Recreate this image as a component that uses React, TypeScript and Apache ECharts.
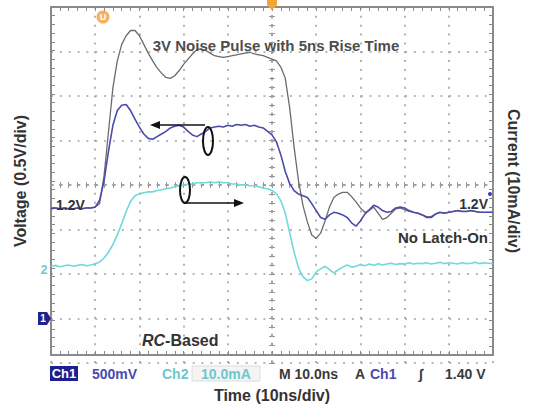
import { useEffect, useRef } from "react";
import * as echarts from "echarts";

// Sample instants along the time base (ns), one per nanosecond across 10 divisions.
const sampleTimesNs = Array.from({ length: 101 }, (_, i) => i);

// Ch1: protected node voltage (V)
const ch1Volts = [
  1.18, 1.19, 1.18, 1.19, 1.18, 1.18, 1.19, 1.18, 1.19, 1.19,
  1.2, 1.28, 1.5, 1.84, 2.14, 2.31, 2.37, 2.38, 2.31, 2.21,
  2.12, 2.04, 1.99, 1.98, 2.01, 2.04, 2.07, 2.11, 2.13, 2.14,
  2.12, 2.07, 2.03, 2.01, 2.04, 2.07, 2.11, 2.12, 2.13, 2.12,
  2.14, 2.13, 2.15, 2.14, 2.15, 2.13, 2.14, 2.12, 2.11, 2.07,
  2.03, 1.95, 1.8, 1.61, 1.47, 1.39, 1.35, 1.33, 1.31, 1.24,
  1.16, 1.08, 1.06, 1.11, 1.14, 1.13, 1.11, 1.08, 1.02, 0.98,
  1.04, 1.12, 1.17, 1.22, 1.2, 1.16, 1.14, 1.15, 1.19, 1.2,
  1.19, 1.16, 1.14, 1.13, 1.11, 1.08, 1.08, 1.12, 1.14, 1.13,
  1.14, 1.15, 1.16, 1.15, 1.15, 1.16, 1.15, 1.14, 1.14, 1.14, 1.14,
];

// Injected 3 V noise pulse (V)
const noisePulseVolts = [
  1.18, 1.19, 1.18, 1.19, 1.18, 1.18, 1.19, 1.18, 1.19, 1.19,
  1.2, 1.24, 1.56, 2.06, 2.57, 2.88, 3.07, 3.17, 3.23, 3.23,
  3.17, 3.07, 2.97, 2.88, 2.8, 2.74, 2.69, 2.68, 2.71, 2.77,
  2.84, 2.9, 2.96, 3.01, 3.02, 3.0, 2.97, 2.94, 2.93, 2.92,
  2.93, 2.94, 2.95, 2.96, 2.97, 2.98, 2.96, 2.95, 2.94, 2.92,
  2.9, 2.88, 2.81, 2.68, 2.34, 1.89, 1.5, 1.22, 1.03, 0.88,
  0.84, 0.9, 1.04, 1.2, 1.31, 1.35, 1.37, 1.37, 1.32, 1.26,
  1.19, 1.14, 1.16, 1.2, 1.13, 1.06, 1.08, 1.13, 1.18, 1.19,
  1.17, 1.15, 1.14, 1.13, 1.11, 1.09, 1.09, 1.12, 1.14, 1.13,
  1.14, 1.15, 1.16, 1.15, 1.15, 1.16, 1.15, 1.14, 1.14, 1.14, 1.14,
];

// Ch2: supply current (mA)
const ch2MilliAmps = [
  0.4, 0.6, 0.3, 0.5, 0.7, 0.4, 0.6, 0.8, 0.5, 0.7,
  1.0, 1.4, 2.3, 3.6, 5.4, 7.6, 10.2, 13.0, 15.3, 16.6,
  17.1, 17.3, 17.5, 17.5, 17.8, 18.0, 18.2, 18.4, 18.7, 18.9,
  19.1, 19.3, 19.3, 19.6, 19.6, 19.6, 19.8, 19.6, 19.8, 19.6,
  19.6, 19.3, 19.3, 19.1, 19.1, 18.9, 18.9, 18.7, 18.4, 18.2,
  17.8, 17.1, 15.5, 12.6, 8.1, 3.6, 0.0, -2.0, -2.9, -2.5,
  -0.9, -0.2, 0.4, -0.4, -1.1, -0.4, 0.2, 0.7, 0.2, 0.4,
  0.8, 0.5, 0.9, 0.6, 1.0, 0.7, 0.9, 1.1, 0.8, 1.0,
  0.9, 1.2, 0.9, 1.1, 1.0, 1.2, 0.9, 1.1, 1.3, 1.0,
  1.2, 1.1, 0.9, 1.2, 1.0, 1.1, 1.3, 1.0, 1.2, 1.1, 1.0,
];

const timeScale = { min: 0, max: 100, step: 10 };
const voltScale = { min: -0.5, max: 3.5, step: 0.5 };
const currentScale = { min: -20, max: 60, step: 10 };

const statusItems = [
  { text: "500mV", x: 92, color: "#4a4ab0" },
  { text: "Ch2", x: 162, color: "#6cc8cc" },
  { text: "10.0mA", x: 201, color: "#6cc8cc" },
  { text: "M 10.0ns", x: 279, color: "#3a3a3a" },
  { text: "A", x: 355, color: "#3a3a3a" },
  { text: "Ch1", x: 370, color: "#4a4ab0" },
  { text: "\u222B", x: 419, color: "#3a3a3a" },
  { text: "1.40 V", x: 445, color: "#3a3a3a" },
];

const FONT = '"Liberation Sans", Arial, sans-serif';
const GRID = { left: 51, top: 7, width: 442, height: 356 };
const BORDER = "#8a8a8a";
const DOT_COLOR = "#a0a0a0";

export default function App() {
  const ref = useRef<HTMLDivElement>(null);

  useEffect(() => {
    if (!ref.current) return;
    const chart = echarts.init(ref.current, null, { renderer: "svg" });

    const pairs = (vals: number[]) => sampleTimesNs.map((t, i) => [t, vals[i]]);
    const dots = () => ({ show: true, lineStyle: { color: DOT_COLOR, width: 1.6, type: [2, 6.85] } });

    const frameAxis = (extra: any) => ({
      axisLabel: { show: false },
      splitLine: { show: false },
      axisLine: { show: true, onZero: false, lineStyle: { color: BORDER, width: 2 } },
      axisTick: { show: true, inside: true, length: 4, lineStyle: { color: BORDER, width: 1 } },
      minorTick: { show: true, splitNumber: 5, length: 4, lineStyle: { color: BORDER, width: 1 } },
      ...extra,
    });
    // graticule: one dotted line per division, with a ticked cross through the centre
    const crossAxis = (inside: boolean, extra: any) => ({
      type: "value",
      axisLabel: { show: false },
      splitLine: inside ? dots() : { show: false },
      axisLine: { show: true, onZero: true, lineStyle: { color: DOT_COLOR, width: 1.6, type: [2, 6.85] } },
      axisTick: { show: true, inside, length: 3, lineStyle: { color: "#999", width: 1 } },
      minorTick: { show: true, splitNumber: 5, length: 3, lineStyle: { color: "#999", width: 1 } },
      ...extra,
    });
    const nameStyle = { color: "#333", fontFamily: FONT, fontWeight: "bold", fontSize: 16 };

    const txt = (text: string, x: number, y: number, o: any = {}) => ({
      type: "text",
      x,
      y,
      z: 10,
      style: {
        text,
        fill: o.fill ?? "#333",
        fontFamily: FONT,
        fontWeight: "bold",
        fontSize: o.size ?? 13,
        align: o.align ?? "left",
        verticalAlign: "middle",
      },
    });

    chart.setOption({
      animation: false,
      backgroundColor: "#fff",
      grid: [{ ...GRID }, { ...GRID }, { ...GRID }],
      xAxis: [
        frameAxis({
          type: "value",
          gridIndex: 0,
          position: "bottom",
          min: timeScale.min,
          max: timeScale.max,
          interval: timeScale.step,
          name: "Time (10ns/div)",
          nameLocation: "middle",
          nameGap: 32,
          nameTextStyle: nameStyle,
        }),
        frameAxis({
          type: "value",
          gridIndex: 0,
          position: "top",
          min: timeScale.min,
          max: timeScale.max,
          interval: timeScale.step,
        }),
        crossAxis(true, { gridIndex: 1, min: -5, max: 5, interval: 1 }),
        crossAxis(false, { gridIndex: 2, min: -5, max: 5, interval: 1 }),
      ],
      yAxis: [
        frameAxis({
          type: "value",
          gridIndex: 0,
          position: "left",
          min: voltScale.min,
          max: voltScale.max,
          interval: voltScale.step,
          name: "Voltage (0.5V/div)",
          nameLocation: "middle",
          nameGap: 23,
          nameTextStyle: nameStyle,
        }),
        frameAxis({
          type: "value",
          gridIndex: 0,
          position: "right",
          min: currentScale.min,
          max: currentScale.max,
          interval: currentScale.step,
          name: "Current (10mA/div)",
          nameLocation: "middle",
          nameRotate: -90,
          nameGap: 12,
          nameTextStyle: nameStyle,
        }),
        crossAxis(true, { gridIndex: 1, min: -4, max: 4, interval: 1 }),
        crossAxis(false, { gridIndex: 2, min: -4, max: 4, interval: 1 }),
      ],
      series: [
        {
          name: "Ch2 current",
          type: "line",
          xAxisIndex: 0,
          yAxisIndex: 1,
          data: pairs(ch2MilliAmps),
          showSymbol: false,
          lineStyle: { color: "#6fd9dc", width: 1.6 },
          z: 3,
        },
        {
          name: "Noise pulse",
          type: "line",
          xAxisIndex: 0,
          yAxisIndex: 0,
          data: pairs(noisePulseVolts),
          showSymbol: false,
          lineStyle: { color: "#6b6b6b", width: 1.3 },
          z: 4,
        },
        {
          name: "Ch1 voltage",
          type: "line",
          xAxisIndex: 0,
          yAxisIndex: 0,
          data: pairs(ch1Volts),
          showSymbol: false,
          lineStyle: { color: "#4b4bab", width: 1.6 },
          z: 5,
        },
      ],
      graphic: [
        // trigger position and trigger level markers
        { type: "polygon", z: 10, shape: { points: [[267, 0], [277, 0], [277, 5], [272, 10], [267, 5]] }, style: { fill: "#f2a33a" } },
        { type: "circle", z: 10, shape: { cx: 103, cy: 17, r: 6.5 }, style: { fill: "#f5b25a" } },
        txt("U", 103, 17, { align: "center", size: 9, fill: "#fff" }),
        // channel ground markers
        { type: "polygon", z: 10, shape: { points: [[38, 312], [47, 312], [51, 318.5], [47, 325], [38, 325]] }, style: { fill: "#22228e" } },
        txt("1", 43, 318.5, { align: "center", size: 10, fill: "#fff" }),
        txt("2", 44, 270, { align: "center", size: 12, fill: "#6cc8cc" }),
        // annotations
        txt("3V Noise Pulse with 5ns Rise Time", 276, 45, { align: "center", size: 15, fill: "#4d4d4d" }),
        txt("1.2V", 56, 205, { size: 14 }),
        txt("1.2V", 488, 204, { align: "right", size: 14 }),
        { type: "circle", z: 10, shape: { cx: 490, cy: 194, r: 2 }, style: { fill: "#3c3cb0" } },
        txt("No Latch-On", 488, 237, { align: "right", size: 15 }),
        {
          type: "text",
          x: 142,
          y: 340,
          z: 10,
          style: {
            text: "{i|RC}-Based",
            fill: "#333",
            fontFamily: FONT,
            fontWeight: "bold",
            fontSize: 16,
            verticalAlign: "middle",
            rich: { i: { fontStyle: "italic", fontWeight: "bold", fontFamily: FONT, fontSize: 16, fill: "#333" } },
          },
        },
        { type: "ellipse", z: 10, shape: { cx: 208, cy: 141, rx: 5, ry: 14 }, style: { fill: "none", stroke: "#111", lineWidth: 2 } },
        { type: "line", z: 10, shape: { x1: 205, y1: 125, x2: 158, y2: 125 }, style: { stroke: "#111", lineWidth: 1.5 } },
        { type: "polygon", z: 10, shape: { points: [[150, 125], [160, 121], [160, 129]] }, style: { fill: "#111" } },
        { type: "ellipse", z: 10, shape: { cx: 185, cy: 190, rx: 5, ry: 13 }, style: { fill: "none", stroke: "#111", lineWidth: 2 } },
        { type: "line", z: 10, shape: { x1: 185, y1: 203, x2: 236, y2: 203 }, style: { stroke: "#111", lineWidth: 1.5 } },
        { type: "polygon", z: 10, shape: { points: [[244, 203], [234, 199], [234, 207]] }, style: { fill: "#111" } },
        // status bar
        { type: "rect", z: 9, shape: { x: 192, y: 366, width: 68, height: 15 }, style: { fill: "#f4f4f4", stroke: "#dddddd", lineWidth: 1 } },
        { type: "rect", z: 10, shape: { x: 50, y: 366, width: 28, height: 15 }, style: { fill: "#1e1e8c" } },
        txt("Ch1", 64, 373.5, { align: "center", size: 13, fill: "#fff" }),
        ...statusItems.map((s) => txt(s.text, s.x, 373.5, { size: 14, fill: s.color })),
      ],
    });

    return () => chart.dispose();
  }, []);

  return (
    <div
      ref={ref}
      style={{ position: "fixed", left: 0, top: 0, width: 540, height: 408, background: "#fff" }}
    />
  );
}
